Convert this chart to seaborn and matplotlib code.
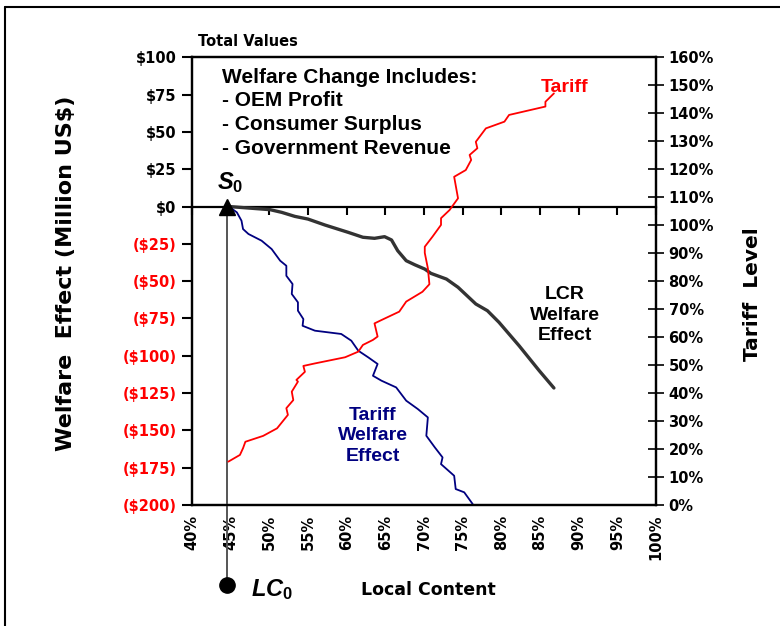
import numpy as np
import pandas as pd
import matplotlib.pyplot as plt
from matplotlib.lines import Line2D
import seaborn as sns

# ---------------- data ----------------
# LCR welfare effect, left axis (million US$)
lcr_lc = [44.8, 47.3, 50.1, 51.6, 53.3, 55.0, 57.2, 60.2, 62.1, 63.6, 64.9, 65.8,
          66.6, 67.7, 68.8, 70.1, 70.9, 72.9, 74.4, 76.7, 78.2, 79.7, 82.3, 84.9, 86.8]
lcr_welfare = [0.0, -1.0, -2.1, -3.9, -6.6, -8.4, -12.4, -17.3, -20.6, -21.3, -20.2, -22.4,
               -29.6, -36.3, -39.0, -41.9, -44.8, -48.6, -54.1, -65.3, -69.8, -77.6, -93.3,
               -110.0, -121.6]

# Tariff welfare effect, left axis (million US$)
tw_lc = [44.9, 45.8, 46.4, 46.6, 47.3, 49.0, 50.3, 51.4, 52.2, 52.2, 53.0, 52.9, 53.7,
         53.7, 54.4, 54.3, 55.9, 59.3, 60.6, 61.5, 62.8, 64.0, 63.4, 64.5, 66.4, 67.7,
         69.2, 70.5, 70.3, 71.4, 72.4, 72.2, 73.9, 74.1, 75.2, 76.3]
tw_welfare = [-0.5, -3.9, -9.5, -15.1, -18.4, -22.9, -28.5, -36.3, -39.7, -46.4, -51.9,
              -58.6, -64.2, -69.8, -75.4, -79.9, -83.2, -85.4, -89.9, -96.6, -101.1,
              -105.5, -113.4, -116.7, -121.2, -130.1, -135.7, -141.3, -153.6, -161.4,
              -168.1, -172.6, -180.4, -189.3, -191.5, -199.4]

# Tariff level, right axis (%)
tar_lc = [44.7, 46.2, 46.6, 46.9, 49.2, 51.0, 52.4, 52.2, 53.1, 52.9, 53.7, 53.5, 54.6,
          54.4, 55.9, 59.8, 61.5, 62.1, 63.4, 64.0, 63.6, 64.5, 66.8, 67.7, 69.8, 70.7,
          70.5, 70.1, 70.1, 71.1, 72.2, 72.2, 73.3, 74.4, 73.9, 75.4, 76.1, 75.9, 76.9,
          76.7, 78.0, 80.4, 81.0, 85.7, 85.7, 86.8]
tar_level = [15.5, 17.9, 20.3, 22.6, 24.7, 27.4, 32.2, 34.6, 37.5, 40.5, 44.1, 44.7, 47.6,
             49.7, 50.6, 52.8, 54.8, 57.2, 59.0, 60.2, 64.9, 66.1, 69.1, 72.7, 76.2, 78.9,
             84.6, 90.1, 92.3, 95.9, 100.1, 102.5, 105.4, 109.6, 117.3, 119.7, 123.3,
             125.1, 127.5, 129.8, 134.6, 137.0, 139.4, 142.4, 144.1, 147.1]

lc0 = 44.5      # starting local content
s0 = 0.0        # starting welfare

x_ticks = list(range(40, 101, 5))
welfare_ticks = list(range(-200, 101, 25))
tariff_ticks = list(range(0, 161, 10))

# ---------------- style ----------------
sns.set_theme(style="white")
plt.rcParams["font.family"] = ["Liberation Sans", "DejaVu Sans"]
plt.rcParams["font.weight"] = "bold"
plt.rcParams["text.color"] = "black"
plt.rcParams["axes.labelcolor"] = "black"
plt.rcParams["xtick.color"] = "black"
plt.rcParams["ytick.color"] = "black"
plt.rcParams["mathtext.fontset"] = "custom"
plt.rcParams["mathtext.it"] = "Liberation Sans:bold:italic"
plt.rcParams["mathtext.rm"] = "Liberation Sans:bold"

W, H = 780, 626
def fx(px): return px / W
def fy(py): return 1 - py / H

fig = plt.figure(figsize=(7.8, 6.26), dpi=100)
ax = fig.add_axes([fx(192), fy(505), fx(656) - fx(192), fy(57.3) - fy(505)])
ax2 = ax.twinx()

wide = dict(family="DejaVu Sans", weight="bold")
tick_font = dict(size=10.5, **wide)

# ---------------- lines ----------------
sns.lineplot(x=lcr_lc, y=lcr_welfare, ax=ax, sort=False, estimator=None,
             color="#333333", lw=2.4, zorder=4)
sns.lineplot(x=tw_lc, y=tw_welfare, ax=ax, sort=False, estimator=None,
             color="#000080", lw=1.3, zorder=4)
sns.lineplot(x=tar_lc, y=tar_level, ax=ax2, sort=False, estimator=None,
             color="#FF0000", lw=1.3, zorder=4)

ax.set_xlim(40, 100)
ax.set_ylim(-200, 100)
ax2.set_ylim(0, 160)

# starting point S0 / LC0
ax.plot([lc0], [s0], marker="^", ms=12, color="black", clip_on=False, zorder=6)
ax.plot([lc0, lc0], [s0, -253.6], color="#555555", lw=1.4, clip_on=False, zorder=3)
ax.plot([lc0], [-253.6], marker="o", ms=11, color="black", clip_on=False, zorder=6)

# zero line with the category ticks
sec = ax.secondary_xaxis(0, transform=ax.transData)
sec.set_xticks(x_ticks)
sec.tick_params(direction="out", length=6, width=1.5, labelbottom=False, labeltop=False)
for s in sec.spines.values():
    s.set_linewidth(1.6)
    s.set_color("black")

# ---------------- axes / ticks ----------------
for a in (ax, ax2):
    for s in a.spines.values():
        s.set_linewidth(1.6)
        s.set_color("black")

ax.set_xticks(x_ticks)
ax.set_xticklabels([f"{v}%" for v in x_ticks], rotation=90, fontdict=tick_font)
ax.tick_params(axis="x", length=0, pad=7)

ax.set_yticks(welfare_ticks)
ylabels = [f"${v}" if v >= 0 else f"(${-v})" for v in welfare_ticks]
ax.set_yticklabels(ylabels, fontdict=tick_font)
for t, v in zip(ax.get_yticklabels(), welfare_ticks):
    t.set_color("black" if v >= 0 else "#FF0000")
ax.tick_params(axis="y", left=True, direction="out", length=7, width=1.5, pad=4)

ax2.set_yticks(tariff_ticks)
ax2.set_yticklabels([f"{v}%" for v in tariff_ticks], fontdict=tick_font)
ax2.tick_params(axis="y", right=True, direction="inout", length=12, width=1.2, pad=3)

ax.set_xlabel("")
ax.set_ylabel("")
ax2.set_ylabel("")

# ---------------- text ----------------
fig.text(fx(66), fy(273), "Welfare  Effect (Million US$)", rotation=90,
         ha="center", va="center", size=16, **wide)
fig.text(fx(752), fy(294), "Tariff  Level", rotation=90,
         ha="center", va="center", size=14.5, **wide)
fig.text(fx(428), fy(590), "Local Content", ha="center", va="center", size=12.5, **wide)
fig.text(fx(198), fy(41), "Total Values", ha="left", va="center", size=10.5, **wide)

fig.text(fx(222), fy(68), "Welfare Change Includes:\n- OEM Profit\n- Consumer Surplus\n- Government Revenue",
         ha="left", va="top", size=15, weight="bold", linespacing=1.3)

fig.text(fx(565), fy(88), "Tariff", color="#FF0000", ha="center", va="center",
         size=14, weight="bold")
fig.text(fx(565), fy(315), "LCR\nWelfare\nEffect", color="black", ha="center",
         va="center", size=14, weight="bold", linespacing=1.3)
fig.text(fx(373), fy(436), "Tariff\nWelfare\nEffect", color="#000080", ha="center",
         va="center", size=14, weight="bold", linespacing=1.3)

fig.text(fx(230), fy(183), r"$S_{\mathit{0}}$", ha="center", va="center", size=17)
fig.text(fx(272), fy(590), r"$LC_{\mathit{0}}$", ha="center", va="center", size=17)

# outer frame (top and left edges visible in the reference)
fig.add_artist(Line2D([fx(5), 1.0], [fy(7), fy(7)], color="black", lw=1.5))
fig.add_artist(Line2D([fx(5), fx(5)], [fy(7), 0.0], color="black", lw=1.5))

fig.savefig("out.png", dpi=100)
